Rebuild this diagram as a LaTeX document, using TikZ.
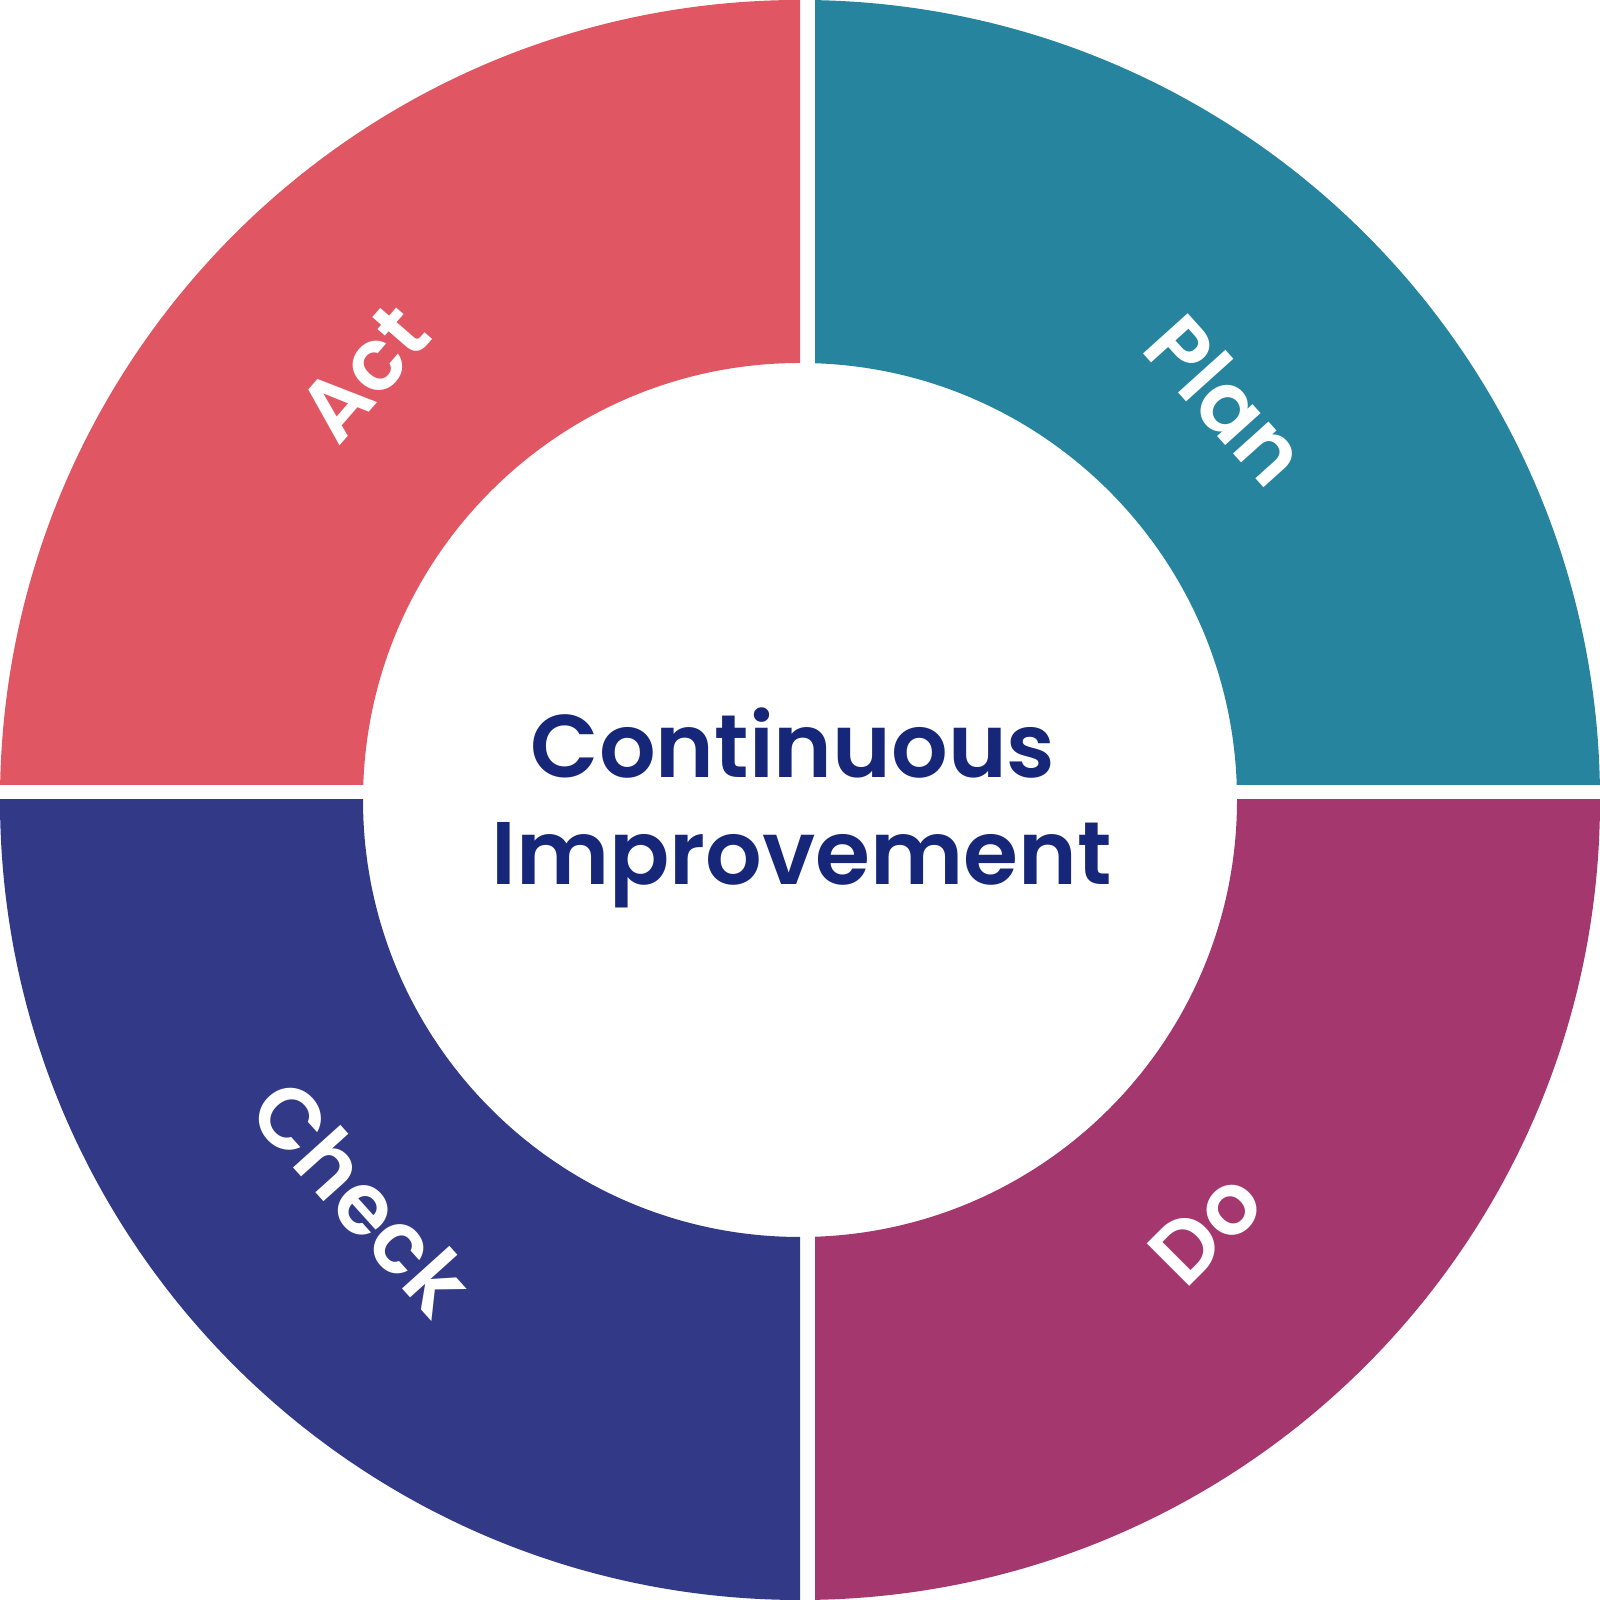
\documentclass[tikz,border=0pt]{standalone}
\usepackage{fontspec}
\setmainfont{Poppins}
\newfontfamily\labelfont{Poppins SemiBold}
\newfontfamily\titlefont{Poppins SemiBold}
\definecolor{actred}{RGB}{224,87,99}
\definecolor{planteal}{RGB}{38,132,158}
\definecolor{checkblue}{RGB}{50,58,135}
\definecolor{domagenta}{RGB}{163,55,110}
\definecolor{titlenavy}{RGB}{22,38,120}
\tikzset{
  seglabel/.style={text=white, font=\labelfont\fontsize{24.5}{30}\selectfont, inner sep=0pt},
  titleline/.style={text=titlenavy, font=\titlefont\fontsize{25.3}{30}\selectfont, inner sep=0pt, anchor=base}
}
\newcommand{\ringpart}[5]{%
  \begin{scope}
    \clip (#1,#2) rectangle (#3,#4);
    \fill[#5, even odd rule] (8,8) circle (8) (8,8) circle (4.37);
  \end{scope}}
\begin{document}
\begin{tikzpicture}
\useasboundingbox (0,0) rectangle (16,16);
\ringpart{0}{8.15}{8.00}{16}{actred}
\ringpart{8.15}{8.15}{16}{16}{planteal}
\ringpart{0}{0}{8.00}{8.00}{checkblue}
\ringpart{8.15}{0}{16}{8.00}{domagenta}
\node[seglabel, rotate=49] (act) at (3.64,12.27) {Act};
\node[seglabel, rotate=-48] (plan) at (12.27,12.00) {Plan};
\node[seglabel, rotate=-48] (check) at (3.62,4.03) {Check};
\node[seglabel, rotate=45] (do) at (12.06,3.72) {Do};
\node[titleline] (title1) at (7.93,8.22) {Continuous};
\node[titleline] (title2) at (8.015,7.15) {Improvement};
\end{tikzpicture}
\end{document}
